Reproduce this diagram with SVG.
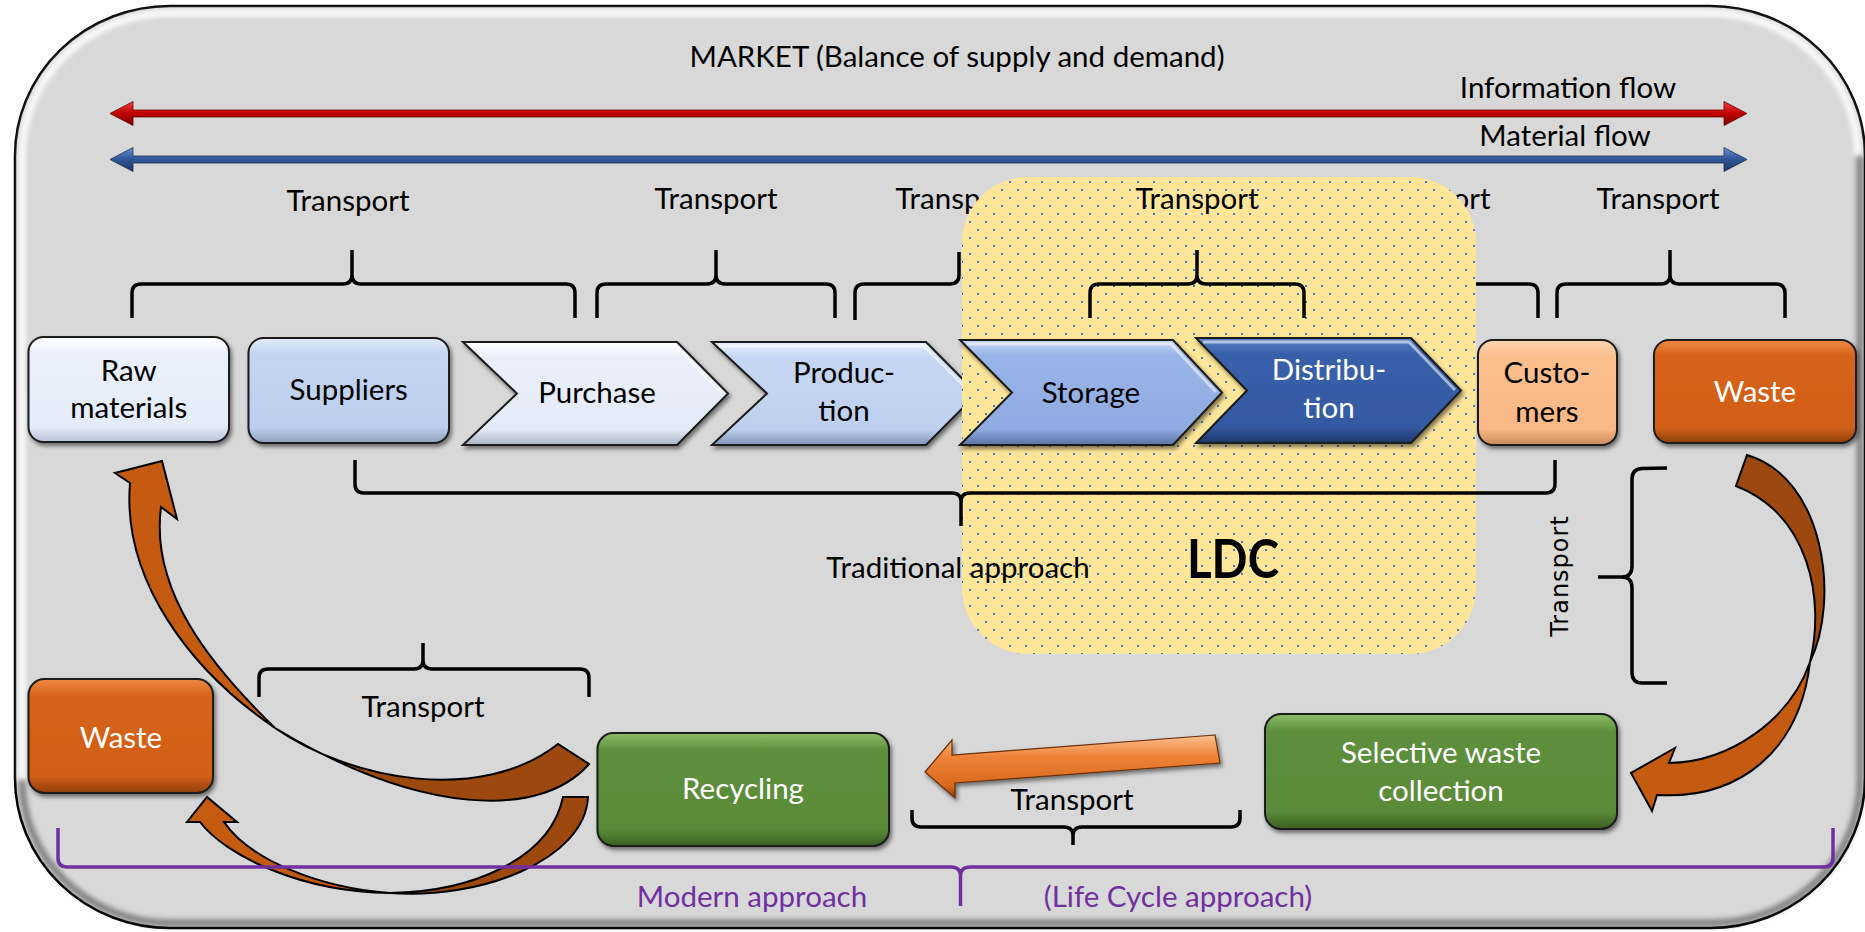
<svg xmlns="http://www.w3.org/2000/svg" width="1865" height="932" viewBox="0 0 1865 932">
<defs>
<style>
.t{font-family:Lato,"Liberation Sans",sans-serif;font-size:29.5px;fill:#000;text-anchor:middle}
.w{fill:#fff}
.pu{fill:#7030a0}
.ldc{font-weight:bold;font-size:54px}
.vt{font-family:"DejaVu Sans",Verdana,sans-serif;font-size:24px;fill:#000;text-anchor:middle;letter-spacing:1px}
.br{fill:none;stroke:#000;stroke-width:3.5;stroke-linejoin:round;stroke-linecap:butt}
.pb{fill:none;stroke:#7030a0;stroke-width:3.5;stroke-linejoin:round}
.node{stroke:#1a1a1a;stroke-width:2;filter:url(#sh)}
.hl{fill:none;stroke:#fff;stroke-width:3;opacity:0.55;stroke-linejoin:round}
.arw{stroke:#000;stroke-width:2;stroke-linejoin:miter}
.fr{fill:#c55a11}
.bk{fill:#9c480e}
</style>
<filter id="sh" x="-10%" y="-10%" width="130%" height="140%">
<feDropShadow dx="2" dy="3" stdDeviation="2" flood-color="#000" flood-opacity="0.5"/>
</filter>
<filter id="blur3" x="-5%" y="-5%" width="110%" height="110%"><feGaussianBlur stdDeviation="2.5"/></filter>
<linearGradient id="gRaw" x1="0" y1="0" x2="0" y2="1"><stop offset="0" stop-color="#ffffff"/><stop offset="0.15" stop-color="#eaf1fc"/><stop offset="0.85" stop-color="#e4ecf9"/><stop offset="1" stop-color="#b8c3d6"/></linearGradient>
<linearGradient id="gSup" x1="0" y1="0" x2="0" y2="1"><stop offset="0" stop-color="#e3ecfb"/><stop offset="0.15" stop-color="#c3d5f2"/><stop offset="0.85" stop-color="#bccfee"/><stop offset="1" stop-color="#8e9fbd"/></linearGradient>
<linearGradient id="gPur" x1="0" y1="0" x2="0" y2="1"><stop offset="0" stop-color="#ffffff"/><stop offset="0.15" stop-color="#eaf0fb"/><stop offset="0.85" stop-color="#e3eaf7"/><stop offset="1" stop-color="#a9b3c4"/></linearGradient>
<linearGradient id="gPro" x1="0" y1="0" x2="0" y2="1"><stop offset="0" stop-color="#e6eefc"/><stop offset="0.15" stop-color="#c5d7f3"/><stop offset="0.85" stop-color="#bed0ef"/><stop offset="1" stop-color="#8294b4"/></linearGradient>
<linearGradient id="gSto" x1="0" y1="0" x2="0" y2="1"><stop offset="0" stop-color="#c6d6f5"/><stop offset="0.15" stop-color="#98b4e8"/><stop offset="0.85" stop-color="#8fabe1"/><stop offset="1" stop-color="#5b73a3"/></linearGradient>
<linearGradient id="gDis" x1="0" y1="0" x2="0" y2="1"><stop offset="0" stop-color="#5d82c6"/><stop offset="0.15" stop-color="#3860aa"/><stop offset="0.85" stop-color="#335aa2"/><stop offset="1" stop-color="#1d3768"/></linearGradient>
<linearGradient id="gCus" x1="0" y1="0" x2="0" y2="1"><stop offset="0" stop-color="#fdd5b3"/><stop offset="0.15" stop-color="#fbbf8e"/><stop offset="0.85" stop-color="#f9b885"/><stop offset="1" stop-color="#c98b5c"/></linearGradient>
<linearGradient id="gWas" x1="0" y1="0" x2="0" y2="1"><stop offset="0" stop-color="#f08a43"/><stop offset="0.15" stop-color="#d6641b"/><stop offset="0.85" stop-color="#d15f17"/><stop offset="1" stop-color="#8f3f0c"/></linearGradient>
<linearGradient id="gGrn" x1="0" y1="0" x2="0" y2="1"><stop offset="0" stop-color="#8cbd68"/><stop offset="0.15" stop-color="#5e8f3c"/><stop offset="0.85" stop-color="#5a8b38"/><stop offset="1" stop-color="#3a5e22"/></linearGradient>
<linearGradient id="gRed" x1="0" y1="0" x2="0" y2="1"><stop offset="0" stop-color="#f04040"/><stop offset="0.5" stop-color="#c00000"/><stop offset="1" stop-color="#7a0000"/></linearGradient>
<linearGradient id="gBlu" x1="0" y1="0" x2="0" y2="1"><stop offset="0" stop-color="#6b8fd0"/><stop offset="0.5" stop-color="#2f5597"/><stop offset="1" stop-color="#1c3564"/></linearGradient>
<linearGradient id="gOr" x1="0" y1="0" x2="0" y2="1"><stop offset="0" stop-color="#fbc08f"/><stop offset="0.35" stop-color="#ee8236"/><stop offset="0.8" stop-color="#d8691f"/><stop offset="1" stop-color="#8a3c0a"/></linearGradient>
<pattern id="dots" x="0" y="0" width="16" height="16" patternUnits="userSpaceOnUse">
<rect width="16" height="16" fill="#ffe699"/>
<rect x="1" y="5" width="2" height="2" fill="#4472c4"/>
<rect x="9" y="13" width="2" height="2" fill="#4472c4"/>
</pattern>
</defs>

<g id="background">
<rect x="15" y="6" width="1850" height="922" rx="155" ry="150" fill="#d8d8d8" stroke="#000" stroke-width="2.5"/>
<path d="M22,780 L22,156 A148,143 0 0 1 170,13 L1710,13 A148,143 0 0 1 1858,156" fill="none" stroke="#fff" stroke-width="7" opacity="0.9" filter="url(#blur3)"/>
<path d="M1860,156 L1860,778 A148,143 0 0 1 1712,923 L170,923 A148,143 0 0 1 22,780" fill="none" stroke="#3a3a3a" stroke-width="7" opacity="0.55" filter="url(#blur3)"/>
</g>

<g id="labels-back">
<text class="t" x="957" y="209">Transport</text>
<text class="t" x="1429" y="209">Transport</text>
</g>

<g id="node-raw-materials">
<rect class="node" x="28.5" y="337" width="200.5" height="105" rx="15" fill="url(#gRaw)"/>
<text class="t" x="128.7" y="381">Raw</text>
<text class="t" x="128.7" y="418">materials</text>
</g>
<g id="node-suppliers">
<rect class="node" x="248.5" y="338" width="200.5" height="105" rx="15" fill="url(#gSup)"/>
<text class="t" x="348.7" y="400">Suppliers</text>
</g>
<g id="node-purchase">
<path class="node" d="M463,342 L677,342 L728,393.5 L677,445 L463,445 L517,393.5 Z" fill="url(#gPur)"/>
<path class="hl" d="M470,346 L675,346 L722,393"/>
<text class="t" x="597" y="403">Purchase</text>
</g>
<g id="node-production">
<path class="node" d="M712,342 L926,342 L977,393.5 L926,445 L712,445 L767,393.5 Z" fill="url(#gPro)"/>
<path class="hl" d="M719,346 L924,346 L971,393"/>
<text class="t" x="844" y="383">Produc-</text>
<text class="t" x="844" y="421">tion</text>
</g>

<g id="node-ldc">
<rect x="962" y="177" width="514" height="477" rx="66" ry="66" fill="url(#dots)"/>
<text class="t ldc" x="1233" y="578" textLength="92" lengthAdjust="spacingAndGlyphs">LDC</text>
</g>

<g id="node-storage">
<path class="node" d="M960,340 L1173,340 L1222,392.5 L1173,445 L960,445 L1012,392.5 Z" fill="url(#gSto)"/>
<path class="hl" d="M967,344 L1171,344 L1216,392"/>
<text class="t" x="1091" y="403">Storage</text>
</g>
<g id="node-distribution">
<path class="node" d="M1196,338 L1411,338 L1461,390.5 L1411,443 L1196,443 L1247,390.5 Z" fill="url(#gDis)"/>
<path class="hl" d="M1203,342 L1409,342 L1455,390"/>
<text class="t w" x="1329" y="380">Distribu-</text>
<text class="t w" x="1329" y="418">tion</text>
</g>
<g id="node-customers">
<rect class="node" x="1478" y="340" width="139" height="105" rx="15" fill="url(#gCus)"/>
<text class="t" x="1547" y="383">Custo-</text>
<text class="t" x="1547" y="422">mers</text>
</g>
<g id="node-waste-top">
<rect class="node" x="1654" y="340" width="202" height="103" rx="15" fill="url(#gWas)"/>
<text class="t w" x="1755" y="402">Waste</text>
</g>
<g id="node-waste-left">
<rect class="node" x="28.5" y="679" width="184.5" height="114" rx="16" fill="url(#gWas)"/>
<text class="t w" x="121" y="748">Waste</text>
</g>
<g id="node-recycling">
<rect class="node" x="597.5" y="733" width="291.5" height="113" rx="16" fill="url(#gGrn)"/>
<text class="t w" x="743" y="799">Recycling</text>
</g>
<g id="node-selective">
<rect class="node" x="1265" y="714" width="352" height="115" rx="16" fill="url(#gGrn)"/>
<text class="t w" x="1441" y="763">Selective waste</text>
<text class="t w" x="1441" y="801">collection</text>
</g>

<g id="connectors">
<path d="M110,113.5 L133,101.5 L133,110 L1724,110 L1724,101.5 L1747,113.5 L1724,125.5 L1724,117 L133,117 L133,125.5 Z" fill="url(#gRed)" stroke="#700000" stroke-width="0.8"/>
<path d="M110,159.5 L133,147.5 L133,156 L1724,156 L1724,147.5 L1747,159.5 L1724,171.5 L1724,163 L133,163 L133,171.5 Z" fill="url(#gBlu)" stroke="#1a2f58" stroke-width="0.8"/>
<path class="br" d="M132,318 L132,293 Q132,284 141,284 L343,284 Q352,284 352,275 L352,250 M352,275 Q352,284 361,284 L566,284 Q575,284 575,293 L575,318"/>
<path class="br" d="M597,318 L597,293 Q597,284 606,284 L707,284 Q716,284 716,275 L716,250 M716,275 Q716,284 725,284 L826,284 Q835,284 835,293 L835,318"/>
<path class="br" d="M855,320 L855,293 Q855,284 864,284 L950,284 Q959,284 959,275 L959,252"/>
<path class="br" d="M1476,284 L1529,284 Q1538,284 1538,293 L1538,318"/>
<path class="br" d="M1090,318 L1090,293 Q1090,284 1099,284 L1188,284 Q1197,284 1197,275 L1197,250 M1197,275 Q1197,284 1206,284 L1295,284 Q1304,284 1304,293 L1304,318"/>
<path class="br" d="M1557,318 L1557,293 Q1557,284 1566,284 L1661,284 Q1670,284 1670,275 L1670,250 M1670,275 Q1670,284 1679,284 L1776,284 Q1785,284 1785,293 L1785,318"/>
<path class="br" d="M355,460 L355,484 Q355,493 364,493 L952,493 Q961,493 961,502 L961,526 M961,502 Q961,493 970,493 L1546,493 Q1555,493 1555,484 L1555,460"/>
<path class="br" d="M1667,468 L1642,468.5 Q1632,469 1632,479 L1632,566 Q1632,577 1622,577 L1598,577 M1622,577 Q1632,577 1632,588 L1632,672 Q1632,683 1642,683 L1667,683"/>
<path class="br" d="M259,697 L259,678 Q259,669 268,669 L414,669 Q423,669 423,660 L423,643 M423,660 Q423,669 432,669 L580,669 Q589,669 589,678 L589,697"/>
<path class="br" d="M912,810 L912,818 Q912,827 921,827 L1064,827 Q1073,827 1073,836 L1073,845 M1073,836 Q1073,827 1082,827 L1231,827 Q1240,827 1240,818 L1240,810"/>
<path class="arw fr" d="M161,507 L177,519 L162,461 L115,473 L130,483 C122,580 190,670 275,728 C210,665 150,590 161,507 Z"/>
<path class="arw bk" d="M275,728 C350,780 480,805 558,744 L589,764 C540,820 420,815 275,728 Z"/>
<path class="arw fr" d="M224,822 L237,822 L207,797 L187,822 L200,822 C225,855 300,892 390,893 C320,888 250,860 224,822 Z"/>
<path class="arw bk" d="M390,893 C470,892 550,860 563,797 L588,797 C585,860 480,900 390,893 Z"/>
<path class="arw bk" d="M1747,455 C1825,478 1840,600 1810,662 C1825,600 1810,515 1736,486 Z"/>
<path class="arw fr" d="M1810,662 C1800,750 1740,800 1657,795 L1652,811 L1631,773 L1675,748 L1669,763 C1730,762 1790,720 1810,662 Z"/>
<path d="M1215,735 L952,755 L952,740 L925,772 L955,798 L955,783 L1220,763 Z" fill="url(#gOr)" stroke="#6a2e08" stroke-width="1.2" filter="url(#sh)"/>
<path class="pb" d="M58,828 L58,858 Q58,867 67,867 L951,867 Q960.5,867 960.5,876 L960.5,906 M960.5,876 Q960.5,867 970,867 L1824,867 Q1833,867 1833,858 L1833,828"/>
</g>

<g id="labels">
<text class="t" x="957" y="67">MARKET (Balance of supply and demand)</text>
<text class="t" x="1568" y="98">Information flow</text>
<text class="t" x="1565" y="146">Material flow</text>
<text class="t" x="348" y="211">Transport</text>
<text class="t" x="716" y="209">Transport</text>
<text class="t" x="1197" y="209">Transport</text>
<text class="t" x="1658" y="209">Transport</text>
<text class="t" x="958" y="578">Traditional approach</text>
<text class="vt" transform="translate(1568,576) rotate(-90)">Transport</text>
<text class="t" x="423" y="717">Transport</text>
<text class="t" x="1072" y="810">Transport</text>
<text class="t pu" x="752" y="907">Modern approach</text>
<text class="t pu" x="1178" y="907">(Life Cycle approach)</text>
</g>
</svg>
